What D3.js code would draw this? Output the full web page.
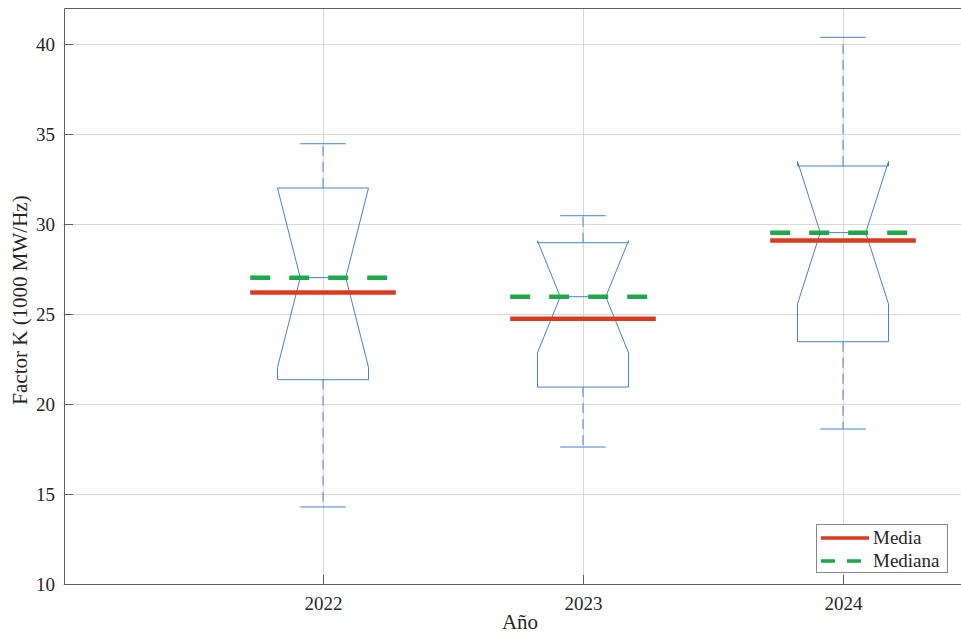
<!DOCTYPE html>
<html>
<head>
<meta charset="utf-8">
<script src="https://cdn.jsdelivr.net/npm/d3@7"></script>
<style>
  html, body { margin: 0; padding: 0; background: #fff; }
  svg, svg text { font-family: "Liberation Serif", serif !important; }
  svg { display: block; }
</style>
</head>
<body>
<svg id="chart" width="961" height="636"></svg>
<script>
// Yearly distribution of the K factor (notched box plots)
const years       = ["2022", "2023", "2024"];
const whiskerLow  = [14.28, 17.61, 18.61];
const q1          = [21.35, 20.94, 23.46];
const notchLow    = [22.04, 22.85, 25.56];
const medians     = [27.02, 25.96, 29.52];
const notchHigh   = [32.00, 29.07, 33.48];
const q3          = [32.00, 28.96, 33.22];
const whiskerHigh = [34.46, 30.46, 40.37];
const means       = [26.20, 24.74, 29.09];
const yTicks      = [10, 15, 20, 25, 30, 35, 40];

const rows = years.map((y, i) => ({
  year: y, pos: i + 1,
  wlo: whiskerLow[i], q1: q1[i], nlo: notchLow[i], med: medians[i],
  nhi: notchHigh[i], q3: q3[i], whi: whiskerHigh[i], mean: means[i]
}));

const svg = d3.select("#chart");
const x = d3.scaleLinear().domain([0, 3.5]).range([63, 973]);
const y = d3.scaleLinear().domain([10, 42]).range([584, 8]);

const BLUE = "#4282de", RED = "#dc3a20", GREEN = "#1ea84a";
const TEXT = "#262626", AXIS = "#5f5f5f", GRID = "#d8d8d8";
const boxHalf = 0.175, notchHalf = 0.0875, capHalf = 0.0875, statHalf = 0.28;

// grid
const grid = svg.append("g");
grid.selectAll("line.gy").data(yTicks).join("line")
  .attr("x1", x(0)).attr("x2", x(3.5))
  .attr("y1", d => y(d) + 0.5).attr("y2", d => y(d) + 0.5)
  .attr("stroke", GRID).attr("stroke-width", 1);
grid.selectAll("line.gx").data(rows).join("line")
  .attr("x1", d => Math.round(x(d.pos)) + 0.5).attr("x2", d => Math.round(x(d.pos)) + 0.5)
  .attr("y1", y(42)).attr("y2", y(10))
  .attr("stroke", GRID).attr("stroke-width", 1);

// boxes
const boxes = svg.append("g");
const outline = d => {
  const p = d.pos;
  const pts = [
    [p - boxHalf, d.q1], [p - boxHalf, d.nlo], [p - notchHalf, d.med], [p - boxHalf, d.nhi],
    [p - boxHalf, d.q3], [p + boxHalf, d.q3], [p + boxHalf, d.nhi], [p + notchHalf, d.med],
    [p + boxHalf, d.nlo], [p + boxHalf, d.q1]
  ];
  return d3.line().x(v => x(v[0])).y(v => y(v[1]))(pts) + "Z";
};
boxes.selectAll("path.box").data(rows).join("path")
  .attr("d", outline).attr("fill", "none").attr("stroke", BLUE).attr("stroke-width", 1);
// median segment inside notch
boxes.selectAll("line.med").data(rows).join("line")
  .attr("x1", d => x(d.pos - notchHalf)).attr("x2", d => x(d.pos + notchHalf))
  .attr("y1", d => y(d.med)).attr("y2", d => y(d.med))
  .attr("stroke", BLUE).attr("stroke-width", 1);
// whiskers
boxes.selectAll("line.wup").data(rows).join("line")
  .attr("x1", d => x(d.pos)).attr("x2", d => x(d.pos))
  .attr("y1", d => y(d.q3)).attr("y2", d => y(d.whi))
  .attr("stroke", BLUE).attr("stroke-width", 1).attr("stroke-dasharray", "10,6");
boxes.selectAll("line.wdn").data(rows).join("line")
  .attr("x1", d => x(d.pos)).attr("x2", d => x(d.pos))
  .attr("y1", d => y(d.q1)).attr("y2", d => y(d.wlo))
  .attr("stroke", BLUE).attr("stroke-width", 1).attr("stroke-dasharray", "10,6");
// caps
["whi", "wlo"].forEach(k => {
  boxes.selectAll("line.cap-" + k).data(rows).join("line")
    .attr("x1", d => x(d.pos - capHalf)).attr("x2", d => x(d.pos + capHalf))
    .attr("y1", d => y(d[k])).attr("y2", d => y(d[k]))
    .attr("stroke", BLUE).attr("stroke-width", 1);
});

// mean and median markers
const stats = svg.append("g");
stats.selectAll("line.mean").data(rows).join("line")
  .attr("x1", d => x(d.pos - statHalf)).attr("x2", d => x(d.pos + statHalf))
  .attr("y1", d => y(d.mean)).attr("y2", d => y(d.mean))
  .attr("stroke", RED).attr("stroke-width", 4.5);
stats.selectAll("line.median").data(rows).join("line")
  .attr("x1", d => x(d.pos - statHalf)).attr("x2", d => x(d.pos + statHalf))
  .attr("y1", d => y(d.med)).attr("y2", d => y(d.med))
  .attr("stroke", GREEN).attr("stroke-width", 4.5).attr("stroke-dasharray", "20,19");

// axes
const axisY = d3.axisLeft(y).tickValues(yTicks).tickSize(-9).tickPadding(9);
const gy = svg.append("g").attr("transform", "translate(64,0)").call(axisY);
const axisX = d3.axisBottom(x).tickValues(rows.map(d => d.pos))
  .tickFormat((d, i) => years[i]).tickSize(-9).tickPadding(13);
const gx = svg.append("g").attr("transform", "translate(0,584)").call(axisX);
[gx, gy].forEach(g => {
  g.attr("font-family", null);
  g.select(".domain").remove();
  g.selectAll(".tick line").attr("stroke", AXIS);
  g.selectAll(".tick text").attr("fill", TEXT).attr("font-size", 19);
});
// frame (left, bottom, top)
svg.append("path")
  .attr("d", `M${x(3.5)},${y(42) + 0.5}H64.5V${y(10) + 0.5}H${x(3.5)}`)
  .attr("fill", "none").attr("stroke", AXIS).attr("stroke-width", 1);

// axis titles
svg.append("text").attr("x", 520).attr("y", 629).attr("text-anchor", "middle")
  .attr("font-size", 21).attr("fill", TEXT).text("Año");
svg.append("text").attr("transform", "translate(27,300) rotate(-90)")
  .attr("text-anchor", "middle").attr("font-size", 21).attr("fill", TEXT)
  .text("Factor K (1000 MW/Hz)");

// legend
const lg = svg.append("g");
lg.append("rect").attr("x", 816.5).attr("y", 524.5).attr("width", 131).attr("height", 48)
  .attr("fill", "#fff").attr("stroke", "#8a8a8a").attr("stroke-width", 1);
const legendItems = [
  { label: "Media", color: RED, dash: null, yy: 538 },
  { label: "Mediana", color: GREEN, dash: "14,12", yy: 561 }
];
legendItems.forEach(it => {
  lg.append("line").attr("x1", 821).attr("x2", 869).attr("y1", it.yy).attr("y2", it.yy)
    .attr("stroke", it.color).attr("stroke-width", 3.5)
    .attr("stroke-dasharray", it.dash);
  lg.append("text").attr("x", 873).attr("y", it.yy + 6).attr("font-size", 19)
    .attr("fill", TEXT).text(it.label);
});
</script>
</body>
</html>
